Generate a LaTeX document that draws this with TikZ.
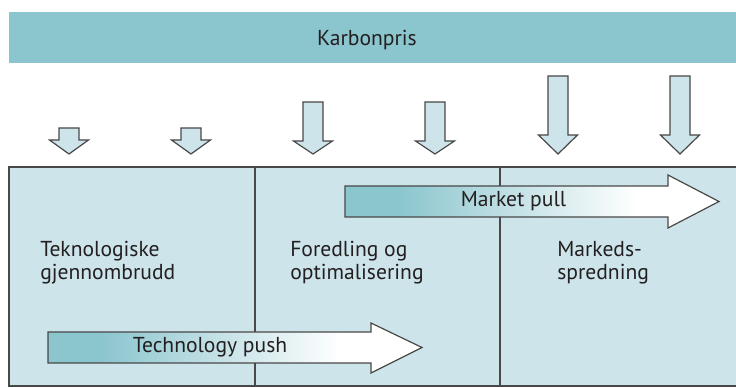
\documentclass[tikz,border=0pt]{standalone}
\usepackage{fontspec}
\setmainfont{PT Sans}
\usepackage{tikz}

\definecolor{barteal}{RGB}{139,197,206}
\definecolor{panelblue}{RGB}{205,229,234}
\definecolor{edgegray}{RGB}{72,72,72}
\definecolor{inkgray}{RGB}{35,31,32}
\pgfdeclarehorizontalshading{pushfade}{100bp}{color(0bp)=(barteal); color(32bp)=(barteal); color(64bp)=(white); color(100bp)=(white)}

\begin{document}
\begin{tikzpicture}[x=0.75pt,y=0.75pt,yscale=-1,xscale=1,
  lbl/.style={inner sep=0pt, text=inkgray, font=\fontsize{16.2}{17.25}\selectfont},
  phase/.style={lbl, align=left, anchor=north west},
  downarr/.style={draw=edgegray, fill=panelblue, line width=0.9pt, line join=miter},
  sidearr/.style={draw=edgegray, shading=pushfade, line width=0.9pt, line join=miter}]
\clip (0,0) rectangle (736,388);

%Shape: Rectangle [top bar]
\fill [barteal] (9,12) rectangle (745,63) ;
%Shape: Rectangle [panel]
\draw [edgegray, fill=panelblue, line width=0.9pt] (9,167) rectangle (745,386) ;
%Straight Lines [dividers]
\draw [edgegray, line width=0.9pt] (255,167) -- (255,386) ;
\draw [edgegray, line width=0.9pt] (500,167) -- (500,386) ;

%Shape: Down Arrow [small]
\draw [downarr] (59,128) -- (79,128) -- (79,140) -- (88.5,140) -- (69,154) -- (49.5,140) -- (59,140) -- cycle ;
\draw [downarr] (181,128) -- (201,128) -- (201,140) -- (210.5,140) -- (191,154) -- (171.5,140) -- (181,140) -- cycle ;
%Shape: Down Arrow [medium]
\draw [downarr] (303,102) -- (323,102) -- (323,141) -- (332.5,141) -- (313,154) -- (293.5,141) -- (303,141) -- cycle ;
\draw [downarr] (425,102) -- (445,102) -- (445,141) -- (454.5,141) -- (435,154) -- (415.5,141) -- (425,141) -- cycle ;
%Shape: Down Arrow [large]
\draw [downarr] (548,76) -- (568,76) -- (568,135) -- (577.5,135) -- (558,154) -- (538.5,135) -- (548,135) -- cycle ;
\draw [downarr] (670,76) -- (690,76) -- (690,135) -- (699.5,135) -- (680,154) -- (660.5,135) -- (670,135) -- cycle ;

%Shape: Right Arrow [market pull]
\draw [sidearr] (345,186) -- (668,186) -- (668,175) -- (719,201.5) -- (668,228) -- (668,217) -- (345,217) -- cycle ;
%Shape: Right Arrow [technology push]
\draw [sidearr] (48,332) -- (371,332) -- (371,323) -- (422,347.5) -- (371,373) -- (371,363) -- (48,363) -- cycle ;

% Text Node
\node [lbl, anchor=base] (karbon) at (367,46) {Karbonpris};
% Text Node
\node [lbl, anchor=base] (pull) at (513.5,207) {Market pull};
% Text Node
\node [lbl, anchor=base] (push) at (210,353) {Technology push};
% Text Node
\node [phase] (gjennombrudd) at (40,241) {Teknologiske\\gjennombrudd};
% Text Node
\node [phase] (foredling) at (290,241) {Foredling og\\optimalisering};
% Text Node
\node [phase] (spredning) at (557,241) {Markeds-\\spredning};

\end{tikzpicture}
\end{document}
